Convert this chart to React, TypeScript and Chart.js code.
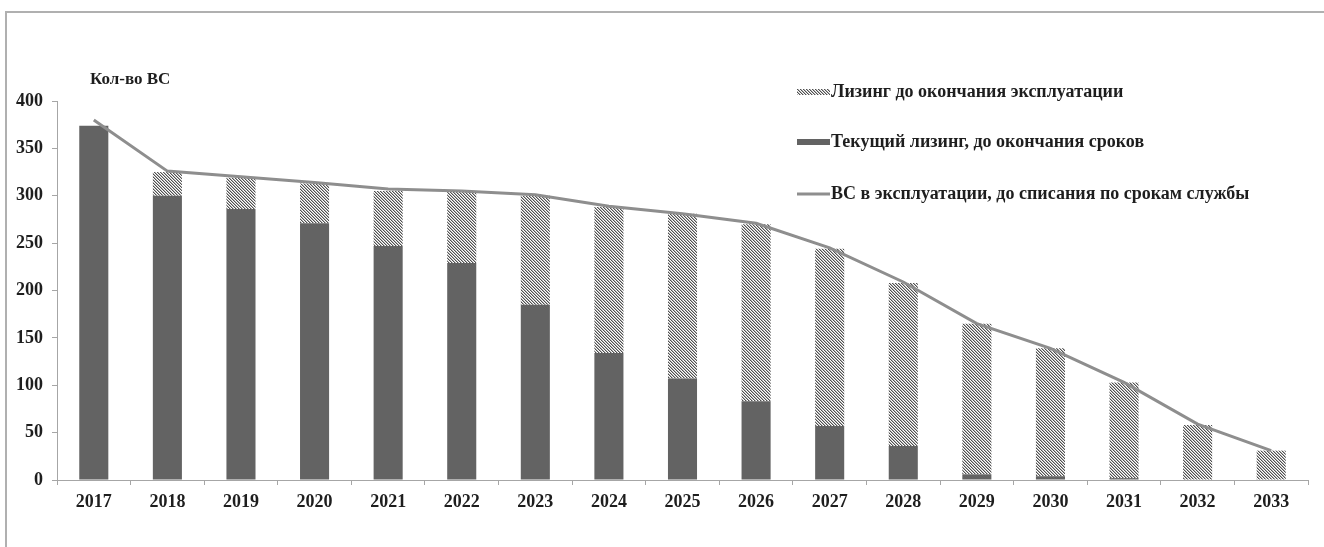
import React, { useEffect, useRef } from "react";
import { Chart, registerables } from "chart.js";

Chart.register(...registerables);

const years = ["2017", "2018", "2019", "2020", "2021", "2022", "2023", "2024", "2025", "2026", "2027", "2028", "2029", "2030", "2031", "2032", "2033"];
const currentLeasing = [374, 300, 286, 271, 247, 229, 185, 134, 107, 83, 57, 36, 6, 4, 2, 0, 0];
const leasingToEnd = [0, 25, 33, 42, 58, 76, 115, 154, 174, 187, 187, 172, 159, 135, 101, 58, 31];
const inOperation = [380, 326, 320, 314, 307, 305, 301, 289, 281, 271, 245, 209, 165, 139, 103, 59, 31];
const yMin = 0;
const yMax = 400;
const yStep = 50;
const yAxisTitle = "Кол-во ВС";
const seriesNames = [
  "Лизинг до окончания эксплуатации",
  "Текущий лизинг, до окончания сроков",
  "ВС в эксплуатации, до списания по срокам службы",
];

const FONT = '"Liberation Serif", "Times New Roman", serif';
const DARK = "#636363";
const LINE = "#8e8e8e";
const AXIS = "#a6a6a6";
const TEXT = "#1e1e1e";

function makeHatch(): CanvasPattern | string {
  const c = document.createElement("canvas");
  c.width = 3;
  c.height = 3;
  const g = c.getContext("2d");
  if (!g) return "#aaa";
  g.fillStyle = "#ffffff";
  g.fillRect(0, 0, 3, 3);
  for (let i = 0; i < 3; i++) {
    g.fillStyle = "#505050";
    g.fillRect(i, i, 1, 1);
    g.fillStyle = "#b4b4b4";
    g.fillRect((i + 1) % 3, i, 1, 1);
  }
  const p = g.createPattern(c, "repeat");
  return p || "#aaa";
}

export default function App() {
  const ref = useRef<HTMLCanvasElement | null>(null);

  useEffect(() => {
    const canvas = ref.current;
    if (!canvas) return;
    const hatch = makeHatch();

    const decor = {
      id: "decor",
      afterDraw(chart: any) {
        const ctx = chart.ctx;
        ctx.save();
        ctx.font = "bold 17px " + FONT;
        ctx.fillStyle = TEXT;
        ctx.textAlign = "left";
        ctx.textBaseline = "middle";
        ctx.fillText(yAxisTitle, 90, 80);
        const sx = 797;
        const sw = 33;
        const ys = [92, 142, 194];
        ctx.font = "bold 18px " + FONT;
        ctx.fillStyle = hatch as any;
        ctx.fillRect(sx, ys[0] - 3, sw, 6);
        ctx.fillStyle = DARK;
        ctx.fillRect(sx, ys[1] - 3, sw, 6);
        ctx.strokeStyle = LINE;
        ctx.lineWidth = 3;
        ctx.beginPath();
        ctx.moveTo(sx, ys[2]);
        ctx.lineTo(sx + sw, ys[2]);
        ctx.stroke();
        ctx.fillStyle = TEXT;
        seriesNames.forEach((n, i) => {
          ctx.fillText(n, sx + sw + 1, ys[i]);
        });
        ctx.restore();
      },
    };

    const chart = new Chart(canvas, {
      type: "bar",
      data: {
        labels: years,
        datasets: [
          {
            type: "line",
            label: seriesNames[2],
            data: inOperation,
            borderColor: LINE,
            backgroundColor: LINE,
            borderWidth: 3,
            pointRadius: 0,
            tension: 0,
            stack: "line",
            order: 0,
          } as any,
          {
            label: seriesNames[1],
            data: currentLeasing,
            backgroundColor: DARK,
            borderWidth: 0,
            stack: "bars",
            order: 1,
          },
          {
            label: seriesNames[0],
            data: leasingToEnd,
            backgroundColor: hatch as any,
            borderWidth: 0,
            stack: "bars",
            order: 1,
          },
        ],
      },
      options: {
        responsive: false,
        animation: false,
        devicePixelRatio: 1,
        layout: { padding: { left: 0, right: 16, top: 101, bottom: 27 } },
        plugins: {
          legend: { display: false },
          tooltip: { enabled: false },
        },
        datasets: {
          bar: { categoryPercentage: 1, barPercentage: 0.395 },
        },
        scales: {
          x: {
            stacked: true,
            offset: true,
            grid: {
              display: true,
              offset: true,
              drawOnChartArea: false,
              drawTicks: true,
              tickLength: 5,
              color: AXIS,
            },
            border: { display: true, color: AXIS, width: 1 },
            ticks: {
              font: { family: FONT, size: 18, weight: "bold" },
              color: TEXT,
              padding: 7,
              maxRotation: 0,
              autoSkip: false,
            },
            afterFit: (s: any) => {
              s.height = 40;
            },
          },
          y: {
            stacked: true,
            min: yMin,
            max: yMax,
            grid: {
              display: true,
              drawOnChartArea: false,
              drawTicks: true,
              tickLength: 5,
              color: AXIS,
            },
            border: { display: true, color: AXIS, width: 1 },
            ticks: {
              stepSize: yStep,
              font: { family: FONT, size: 18, weight: "bold" },
              color: TEXT,
              padding: 9,
            },
            afterFit: (s: any) => {
              s.width = 57;
            },
          },
        },
      },
      plugins: [decor],
    } as any);

    return () => chart.destroy();
  }, []);

  return (
    <div style={{ position: "fixed", left: 0, top: 0, width: 1324, height: 547, background: "#fff", overflow: "hidden" }}>
      <div
        style={{
          position: "absolute",
          left: 5,
          top: 11,
          width: 1340,
          height: 560,
          borderTop: "2px solid #b0b0b0",
          borderLeft: "2px solid #b0b0b0",
        }}
      />
      <canvas ref={ref} width={1324} height={547} style={{ position: "absolute", left: 0, top: 0 }} />
    </div>
  );
}
